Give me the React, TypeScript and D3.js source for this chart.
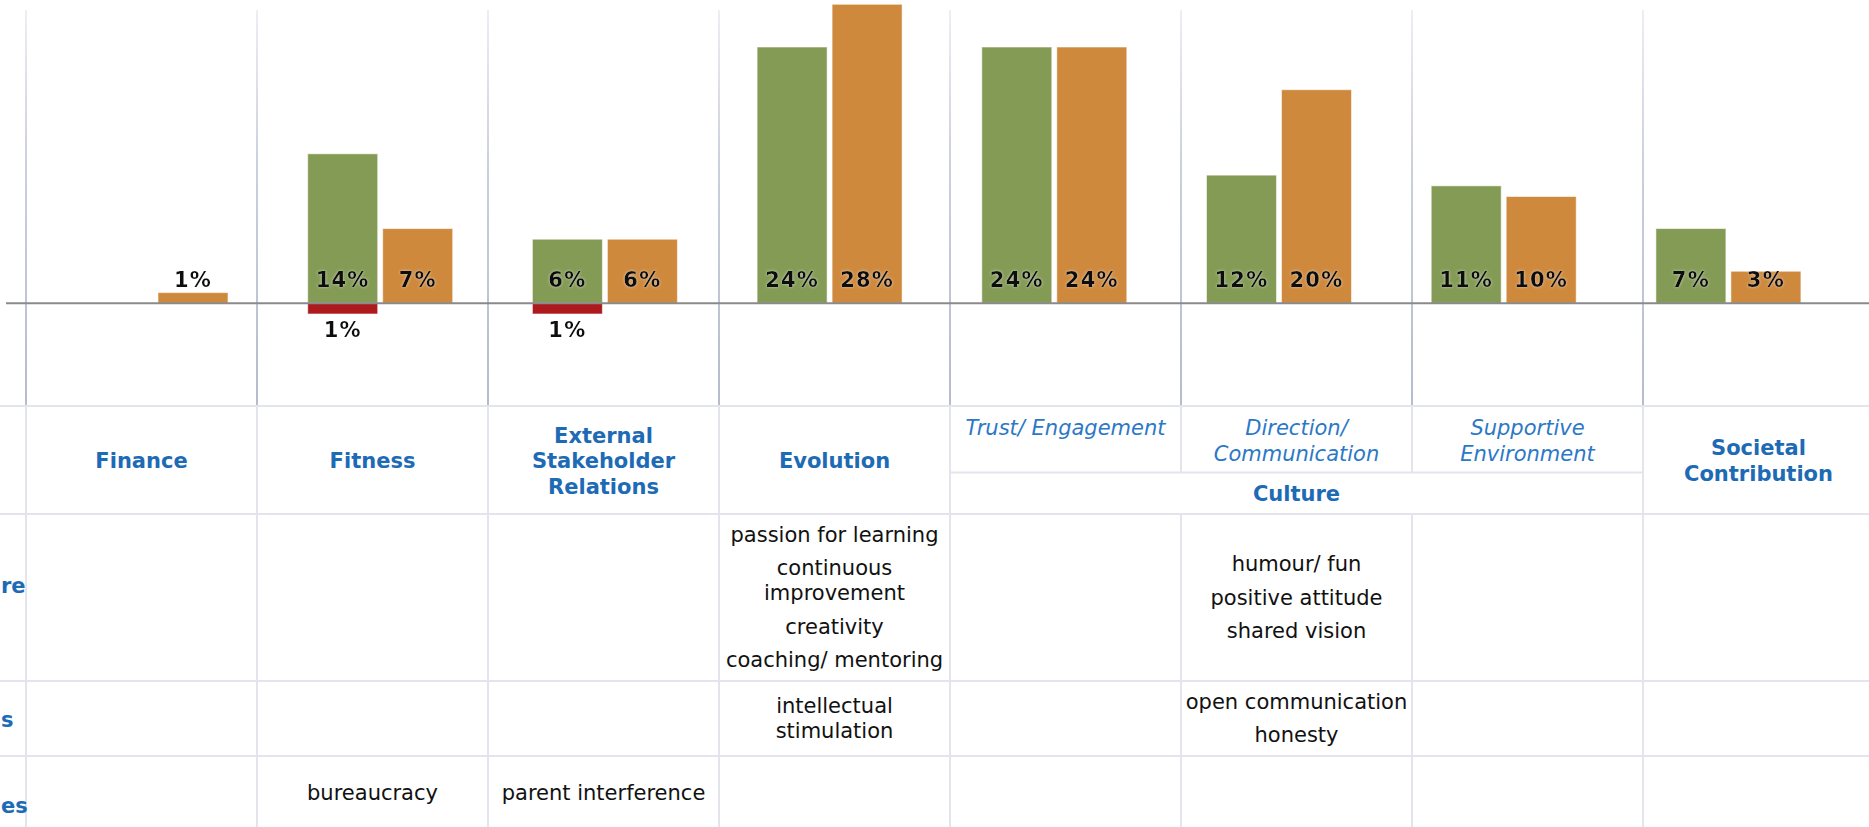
import React from "react";
import * as d3 from "d3";

// ---------- DATA ----------
const categories = [
  "Finance",
  "Fitness",
  "External Stakeholder Relations",
  "Evolution",
  "Trust/ Engagement",
  "Direction/ Communication",
  "Supportive Environment",
  "Societal Contribution",
];
const seriesKeys = ["green", "orange"];
const greenValues: (number | null)[] = [null, 14, 6, 24, 24, 12, 11, 7];
const orangeValues: (number | null)[] = [1, 7, 6, 28, 24, 20, 10, 3];
const redValues: (number | null)[] = [null, -1, -1, null, null, null, null, null];

const headerLabels: string[][] = [
  ["Finance"],
  ["Fitness"],
  ["External", "Stakeholder", "Relations"],
  ["Evolution"],
  ["Trust/ Engagement"],
  ["Direction/", "Communication"],
  ["Supportive", "Environment"],
  ["Societal", "Contribution"],
];
const headerItalic = [false, false, false, false, true, true, true, false];
const groupLabel = "Culture";
const groupStart = 4;
const groupEnd = 6;
const rowLabels = ["re", "s", "es"];

const row1Cells: string[][][] = [
  [], [], [],
  [["passion for learning"], ["continuous", "improvement"], ["creativity"], ["coaching/ mentoring"]],
  [],
  [["humour/ fun"], ["positive attitude"], ["shared vision"]],
  [], [],
];
const row2Cells: string[][][] = [
  [], [], [],
  [["intellectual", "stimulation"]],
  [],
  [["open communication"], ["honesty"]],
  [], [],
];
const row3Cells: string[][][] = [
  [],
  [["bureaucracy"]],
  [["parent interference"]],
  [], [], [], [], [],
];

// ---------- STYLE ----------
const W = 1869;
const H = 827;
const FONT = "Verdana, 'DejaVu Sans', sans-serif";
const GREEN = "#849B55";
const ORANGE = "#CE893D";
const RED = "#AD1A1E";
const BLUE = "#1D6AB5";
const BLUE_IT = "#2C78C6";
const TABLE_LINE = "#E4E5EC";

export default function App() {
  const x0 = d3
    .scaleBand<string>()
    .domain(categories)
    .range([43.15, 1840.75])
    .paddingInner(0.3547)
    .paddingOuter(0.17735);
  const x1 = d3
    .scaleBand<string>()
    .domain(seriesKeys)
    .range([0, x0.bandwidth()])
    .paddingInner(0.0667);
  const y = d3.scaleLinear().domain([0, 28]).range([303.3, 4.3]);

  const tx = d3
    .scaleBand<string>()
    .domain(categories)
    .range([26, 26 + 231 * categories.length]);
  const tw = tx.bandwidth();

  const tableTop = 406;
  const headerBottom = 514;
  const groupSplit = 472.5;
  const rowBounds = [514, 681, 756, 830];
  const rowLabelOffsets = [-5, 8, 20];

  const series = [
    { key: "green", values: greenValues, color: GREEN },
    { key: "orange", values: orangeValues, color: ORANGE },
    { key: "green", values: redValues, color: RED },
  ];

  const bars: React.ReactNode[] = [];
  const labels: React.ReactNode[] = [];
  series.forEach((s, si) => {
    s.values.forEach((v, i) => {
      if (v === null) return;
      const c = categories[i];
      const bx = (x0(c) as number) + (x1(s.key) as number);
      const bw = x1.bandwidth();
      const top = Math.min(y(v), y(0));
      const h = Math.abs(y(v) - y(0));
      bars.push(
        <rect
          key={`b${si}-${i}`}
          x={bx}
          y={top}
          width={bw}
          height={h}
          fill={s.color}
          stroke="rgba(255,255,255,0.55)"
          strokeWidth={1}
        />
      );
      const ly = v >= 0 ? y(0) - 16 : y(v) + 23;
      labels.push(
        <text
          key={`l${si}-${i}`}
          x={bx + bw / 2}
          y={ly}
          textAnchor="middle"
          fontFamily={FONT}
          fontWeight="bold"
          fontSize={21}
          letterSpacing={1.2}
          fill="#111"
          filter="url(#glow)"
        >
          {`${Math.abs(v)}%`}
        </text>
      );
    });
  });

  // vertical chart lines
  const chartLines = categories.map((c) => (
    <line
      key={`cl-${c}`}
      x1={tx(c)}
      x2={tx(c)}
      y1={10}
      y2={tableTop}
      stroke="url(#vgrad)"
      strokeWidth={2}
    />
  ));

  // table lines
  const hLines = [tableTop, headerBottom, ...rowBounds.slice(1)].map((yy, i) => (
    <line key={`hl${i}`} x1={0} x2={W} y1={yy} y2={yy} stroke={TABLE_LINE} strokeWidth={2} />
  ));
  const gx0 = tx(categories[groupStart]) as number;
  const gx1 = (tx(categories[groupEnd]) as number) + tw;
  hLines.push(
    <line key="hsplit" x1={gx0} x2={gx1} y1={groupSplit} y2={groupSplit} stroke={TABLE_LINE} strokeWidth={2} />
  );
  const vLines: React.ReactNode[] = [];
  categories.forEach((c, i) => {
    const xx = tx(c) as number;
    if (i > groupStart && i <= groupEnd) {
      vLines.push(<line key={`vt${i}`} x1={xx} x2={xx} y1={tableTop} y2={groupSplit} stroke={TABLE_LINE} strokeWidth={2} />);
      vLines.push(<line key={`vb${i}`} x1={xx} x2={xx} y1={headerBottom} y2={H} stroke={TABLE_LINE} strokeWidth={2} />);
    } else {
      vLines.push(<line key={`v${i}`} x1={xx} x2={xx} y1={tableTop} y2={H} stroke={TABLE_LINE} strokeWidth={2} />);
    }
  });

  // header texts
  const headerCenter = (tableTop + headerBottom) / 2;
  const headerTexts: React.ReactNode[] = [];
  headerLabels.forEach((lines, i) => {
    const cx = (tx(categories[i]) as number) + tw / 2;
    const italic = headerItalic[i];
    lines.forEach((ln, j) => {
      const by = italic
        ? tableTop + 29 + j * 26
        : headerCenter + 8 + (j - (lines.length - 1) / 2) * 25.5;
      headerTexts.push(
        <text
          key={`h${i}-${j}`}
          x={cx}
          y={by}
          textAnchor="middle"
          fontFamily={FONT}
          fontSize={21}
          fontWeight={italic ? "normal" : "bold"}
          fontStyle={italic ? "italic" : "normal"}
          fill={italic ? BLUE_IT : BLUE}
        >
          {ln}
        </text>
      );
    });
  });
  headerTexts.push(
    <text
      key="group"
      x={(gx0 + gx1) / 2}
      y={(groupSplit + headerBottom) / 2 + 8}
      textAnchor="middle"
      fontFamily={FONT}
      fontSize={21}
      fontWeight="bold"
      fill={BLUE}
    >
      {groupLabel}
    </text>
  );

  // body cells
  const bodyTexts: React.ReactNode[] = [];
  [row1Cells, row2Cells, row3Cells].forEach((row, r) => {
    const rc = (rowBounds[r] + rowBounds[r + 1]) / 2;
    row.forEach((items, ci) => {
      if (!items.length) return;
      const pos: { t: string; p: number }[] = [];
      let p = 0;
      items.forEach((item, ii) => {
        item.forEach((ln, li) => {
          if (ii > 0 || li > 0) p += li === 0 ? 33.5 : 25.3;
          pos.push({ t: ln, p });
        });
      });
      const off = rc + 7 - p / 2;
      const cx = (tx(categories[ci]) as number) + tw / 2;
      pos.forEach((d, k) => {
        bodyTexts.push(
          <text
            key={`c${r}-${ci}-${k}`}
            x={cx}
            y={off + d.p}
            textAnchor="middle"
            fontFamily={FONT}
            fontSize={21}
            fill="#111"
          >
            {d.t}
          </text>
        );
      });
    });
    bodyTexts.push(
      <text
        key={`rl${r}`}
        x={1}
        y={rc + rowLabelOffsets[r]}
        textAnchor="start"
        fontFamily={FONT}
        fontSize={21}
        fontWeight="bold"
        fill={BLUE}
      >
        {rowLabels[r]}
      </text>
    );
  });

  return (
    <svg
      width={W}
      height={H}
      style={{ position: "absolute", left: 0, top: 0, background: "#fff" }}
    >
      <defs>
        <linearGradient id="vgrad" gradientUnits="userSpaceOnUse" x1={0} y1={10} x2={0} y2={406}>
          <stop offset="0" stopColor="#eceef4" />
          <stop offset="0.4" stopColor="#cbcfdc" />
          <stop offset="1" stopColor="#b6bbcd" />
        </linearGradient>
        <filter id="glow" x="-20%" y="-30%" width="140%" height="160%">
          <feGaussianBlur in="SourceAlpha" stdDeviation="1.4" result="b" />
          <feFlood floodColor="#ffffff" floodOpacity="0.55" />
          <feComposite in2="b" operator="in" result="g" />
          <feMerge>
            <feMergeNode in="g" />
            <feMergeNode in="SourceGraphic" />
          </feMerge>
        </filter>
      </defs>
      <rect x={0} y={0} width={W} height={H} fill="#fff" />
      {chartLines}
      {hLines}
      {vLines}
      {bars}
      <line x1={6} x2={W} y1={y(0)} y2={y(0)} stroke="#8a8a8a" strokeWidth={2} />
      {labels}
      {headerTexts}
      {bodyTexts}
    </svg>
  );
}
